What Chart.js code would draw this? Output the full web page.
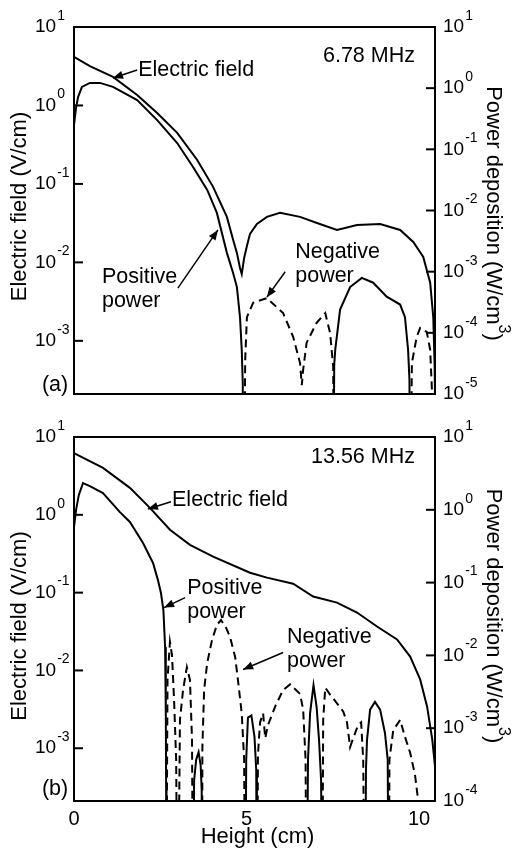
<!DOCTYPE html>
<html>
<head>
<meta charset="utf-8">
<script src="https://cdn.jsdelivr.net/npm/chart.js@4.4.0/dist/chart.umd.min.js"></script>
<style>
  html, body { margin: 0; padding: 0; background: #fff; }
  #wrap { position: relative; width: 514px; height: 850px; }
  canvas { position: absolute; left: 0; }
  #chartA { top: 0; }
  #chartB { top: 420px; }
</style>
</head>
<body>
<div id="wrap">
  <canvas id="chartA" width="514" height="420"></canvas>
  <canvas id="chartB" width="514" height="430"></canvas>
</div>
<script>
// (a) 6.78 MHz
const heightFieldA = [0, 0.46, 1.13, 1.83, 2.41, 2.99, 3.57, 4.03, 4.43, 4.61, 4.72, 4.81, 4.86, 4.93, 5.01, 5.10, 5.30, 5.59, 5.97, 6.55, 7.04, 7.62, 8.20, 8.87, 9.45, 9.83, 10.12, 10.32, 10.41, 10.45, 10.46];
const fieldA = [4.15, 3.18, 2.31, 1.36, 0.80, 0.447, 0.202, 0.0917, 0.038, 0.0194, 0.0132, 0.0085, 0.0071, 0.0114, 0.0162, 0.0231, 0.0309, 0.038, 0.0428, 0.038, 0.0318, 0.0259, 0.030, 0.0309, 0.0259, 0.0182, 0.0117, 0.0055, 0.0020, 0.00047, 0.0002];

const heightPosA = [0, 0.06, 0.12, 0.23, 0.46, 0.75, 1.13, 1.83, 2.41, 2.99, 3.45, 3.86, 4.14, 4.43, 4.61, 4.72, 4.81, 4.86, 4.89, 4.90, 6.0, 7.51, 7.54, 7.57, 7.71, 8.0, 8.34, 8.67, 9.06, 9.45, 9.59, 9.68, 9.72, 9.74];
const posPowerA = [0.25, 0.48, 0.72, 1.05, 1.22, 1.22, 1.05, 0.64, 0.30, 0.127, 0.0515, 0.0217, 0.00914, 0.00203, 9.5e-4, 5.6e-4, 1.8e-4, 5.3e-5, 1.5e-5, 1e-7, null, 1e-7, 3.0e-5, 5.3e-5, 2.4e-4, 5.6e-4, 7.9e-4, 6.6e-4, 3.9e-4, 2.9e-4, 1.8e-4, 5.3e-5, 1.7e-5, 1e-7];

const heightNegA = [4.93, 4.96, 5.01, 5.19, 5.59, 6.06, 6.35, 6.55, 6.60, 6.64, 6.74, 7.03, 7.28, 7.42, 7.51, 7.54, 8.6, 9.75, 9.79, 9.93, 10.03, 10.22, 10.32, 10.37, 10.38];
const negPowerA = [1e-7, 3.6e-5, 1.8e-4, 3.1e-4, 3.7e-4, 2.1e-4, 8.6e-5, 3.2e-5, 1.4e-5, 2.5e-5, 6.9e-5, 1.46e-4, 2.1e-4, 1.0e-4, 2.8e-5, 1e-7, null, 1e-7, 3.2e-5, 8.6e-5, 1.2e-4, 1.04e-4, 5.3e-5, 1.2e-5, 1e-7];

// (b) 13.56 MHz
const heightFieldB = [0, 0.84, 1.62, 2.20, 2.78, 3.36, 4.03, 5.10, 5.59, 6.35, 6.93, 7.62, 8.20, 8.78, 9.36, 9.74, 10.03, 10.23, 10.38, 10.46];
const fieldB = [6.2, 4.0, 2.22, 1.23, 0.643, 0.412, 0.290, 0.180, 0.156, 0.130, 0.089, 0.0745, 0.0555, 0.0367, 0.0250, 0.0151, 0.00767, 0.00345, 0.0013, 0.00059];

const heightPosB = [0, 0.06, 0.14, 0.26, 0.46, 0.84, 1.33, 1.62, 2.0, 2.29, 2.43, 2.52, 2.59, 2.64, 2.66, 2.67, 2.68,
  3.0, 3.45, 3.48, 3.54, 3.61, 3.67, 3.70, 3.71,
  4.3, 4.96, 4.99, 5.04, 5.14, 5.23, 5.28, 5.30,
  6.0, 6.74, 6.78, 6.84, 6.94, 7.03, 7.10, 7.16, 7.19,
  7.8, 8.43, 8.46, 8.49, 8.58, 8.72, 8.87, 9.01, 9.09, 9.12];
const posPowerB = [0.58, 1.0, 1.6, 2.33, 2.12, 1.70, 0.93, 0.68, 0.35, 0.186, 0.109, 0.072, 0.042, 0.013, 1.6e-3, 1.4e-4, 1e-6,
  null, 1e-6, 1.9e-4, 3.7e-4, 4.7e-4, 3.1e-4, 1.4e-4, 1e-6,
  null, 1e-6, 3.7e-4, 1.4e-3, 1.5e-3, 7.6e-4, 2.7e-4, 1e-6,
  null, 1e-6, 3.7e-4, 1.6e-3, 3.9e-3, 1.95e-3, 6.9e-4, 1.9e-4, 1e-6,
  null, 1e-6, 2.7e-4, 6.9e-4, 1.8e-3, 2.3e-3, 1.8e-3, 8.6e-4, 3.7e-4, 1e-6];

const heightNegB = [2.67, 2.71, 2.78, 2.84, 2.90, 2.96, 3.00, 3.01, 3.07, 3.16, 3.27, 3.36, 3.42, 3.45,
  3.6, 3.71, 3.72, 3.77, 3.86, 4.0, 4.14, 4.26, 4.41, 4.52, 4.67, 4.76, 4.86, 4.93, 4.96,
  5.1, 5.30, 5.33, 5.39, 5.48, 5.54, 5.62, 5.83, 6.06, 6.26, 6.55, 6.64, 6.71, 6.74,
  7.0, 7.19, 7.22, 7.28, 7.42, 7.62, 7.80, 7.91, 8.0, 8.09, 8.23, 8.32, 8.38, 8.43,
  8.8, 9.12, 9.14, 9.25, 9.45, 9.59, 9.74, 9.88, 9.97, 9.99];
const negPowerB = [1e-6, 4.6e-3, 0.0153, 0.0101, 2.4e-3, 3.7e-4, 1e-6, 1e-6, 1.3e-3, 3.35e-3, 6.9e-3, 4.6e-3, 6.9e-4, 1e-6,
  null, 1e-6, 5.5e-4, 3.35e-3, 7.9e-3, 0.0163, 0.0262, 0.0306, 0.0238, 0.0179, 9.5e-3, 4.2e-3, 1.6e-3, 3.7e-4, 1e-6,
  null, 1e-6, 4.3e-4, 1.2e-3, 1.6e-3, 7.3e-4, 1.1e-3, 2.0e-3, 3.35e-3, 4.0e-3, 2.95e-3, 1.8e-3, 3.7e-4, 1e-6,
  null, 1e-6, 1.3e-3, 3.6e-3, 2.9e-3, 2.2e-3, 1.7e-3, 1.2e-3, 5.5e-4, 7.3e-4, 1.1e-3, 1.2e-3, 3.7e-4, 1e-6,
  null, 1e-6, 3.7e-4, 9.4e-4, 1.3e-3, 7.6e-4, 4.6e-4, 2.3e-4, 1.03e-4, 1e-6];

// tick labels (decade exponents)
const fieldTicks = [1, 0, -1, -2, -3];
const powerTicksA = [1, 0, -1, -2, -3, -4, -5];
const powerTicksB = [1, 0, -1, -2, -3, -4];
const heightTicks = [0, 5, 10];

const FONT = '"Liberation Sans", Arial, Helvetica, sans-serif';

function pts(xs, ys) {
  return xs.map((x, i) => ({ x: x, y: ys[i] }));
}

// "10" with a raised exponent, left edge at x
function drawPow(ctx, x, y, exp) {
  ctx.textAlign = 'left';
  ctx.textBaseline = 'middle';
  ctx.font = '19px ' + FONT;
  const wb = ctx.measureText('10').width;
  ctx.fillText('10', x, y);
  ctx.font = '14px ' + FONT;
  ctx.fillText(String(exp), x + wb + 1, y - 11);
}

function arrow(ctx, x1, y1, x2, y2) {
  ctx.beginPath();
  ctx.moveTo(x1, y1);
  ctx.lineTo(x2, y2);
  ctx.lineWidth = 1.5;
  ctx.stroke();
  const ang = Math.atan2(y2 - y1, x2 - x1);
  ctx.beginPath();
  ctx.moveTo(x2, y2);
  ctx.lineTo(x2 - 10 * Math.cos(ang) + 4 * Math.sin(ang), y2 - 10 * Math.sin(ang) - 4 * Math.cos(ang));
  ctx.lineTo(x2 - 10 * Math.cos(ang) - 4 * Math.sin(ang), y2 - 10 * Math.sin(ang) + 4 * Math.cos(ang));
  ctx.closePath();
  ctx.fill();
}

const framePlugin = {
  id: 'frame',
  afterDraw(chart, args, o) {
    const { ctx, chartArea: a, scales } = chart;
    const sx = scales.x, sy = scales.y, sy1 = scales.y1;
    ctx.save();
    ctx.strokeStyle = '#000';
    ctx.fillStyle = '#000';
    ctx.lineWidth = 2;
    ctx.strokeRect(a.left, a.top, a.right - a.left, a.bottom - a.top);

    o.leftTicks.forEach(e => {
      const py = sy.getPixelForValue(Math.pow(10, e));
      if (py > a.top + 2 && py < a.bottom - 2) {
        ctx.beginPath(); ctx.moveTo(a.left, py); ctx.lineTo(a.left + 9, py); ctx.stroke();
      }
      drawPow(ctx, a.left - 39, py, e);
    });
    o.rightTicks.forEach(e => {
      const py = sy1.getPixelForValue(Math.pow(10, e));
      if (py > a.top + 2 && py < a.bottom - 2) {
        ctx.beginPath(); ctx.moveTo(a.right - 9, py); ctx.lineTo(a.right, py); ctx.stroke();
      }
      drawPow(ctx, a.right + 8, py, e);
    });
    if (o.xTicks) {
      ctx.font = '20px ' + FONT;
      ctx.textAlign = 'center';
      ctx.textBaseline = 'middle';
      o.xTicks.forEach(v => ctx.fillText(String(v), sx.getPixelForValue(v), a.bottom + 18));
      ctx.font = '22px ' + FONT;
      ctx.fillText('Height (cm)', (a.left + a.right) / 2 + 3, a.bottom + 36);
    }

    // axis titles
    const midY = (a.top + a.bottom) / 2;
    ctx.font = '22px ' + FONT;
    ctx.textAlign = 'center';
    ctx.textBaseline = 'middle';
    ctx.save();
    ctx.translate(a.left - 54, midY + o.leftTitleShift);
    ctx.rotate(-Math.PI / 2);
    ctx.fillText('Electric field (V/cm)', 0, 0);
    ctx.restore();

    ctx.save();
    ctx.translate(a.right + 58, midY + o.rightTitleShift);
    ctx.rotate(Math.PI / 2);
    const main = 'Power deposition (W/cm';
    ctx.font = '22px ' + FONT;
    const w1 = ctx.measureText(main).width;
    const w3 = ctx.measureText(')').width;
    ctx.font = '16px ' + FONT;
    const w2 = ctx.measureText('3').width;
    let x0 = -(w1 + w2 + w3) / 2;
    ctx.textAlign = 'left';
    ctx.font = '22px ' + FONT;
    ctx.fillText(main, x0, 0);
    ctx.font = '16px ' + FONT;
    ctx.fillText('3', x0 + w1, -10);
    ctx.font = '22px ' + FONT;
    ctx.fillText(')', x0 + w1 + w2, 0);
    ctx.restore();

    // annotations, anchored in data units on the height / electric-field scales
    ctx.font = '21.5px ' + FONT;
    ctx.textBaseline = 'middle';
    o.notes.forEach(n => {
      const px = sx.getPixelForValue(n.x);
      const py = sy.getPixelForValue(n.y);
      ctx.textAlign = n.align || 'left';
      n.lines.forEach((t, i) => ctx.fillText(t, px, py + i * 24));
      if (n.from) {
        arrow(ctx, sx.getPixelForValue(n.from[0]), sy.getPixelForValue(n.from[1]),
          sx.getPixelForValue(n.to[0]), sy.getPixelForValue(n.to[1]));
      }
    });
    ctx.restore();
  }
};

function lineSet(xs, ys, axis, dashed) {
  return {
    data: pts(xs, ys),
    yAxisID: axis,
    borderColor: '#000',
    borderWidth: 2,
    borderDash: dashed ? [8, 5] : [],
    pointRadius: 0,
    fill: false,
    tension: 0,
    spanGaps: false
  };
}

function makeChart(id, sets, cfg) {
  return new Chart(document.getElementById(id), {
    type: 'line',
    data: { datasets: sets },
    options: {
      responsive: false,
      animation: false,
      layout: { padding: cfg.padding },
      plugins: {
        legend: { display: false },
        tooltip: { enabled: false },
        frame: cfg.frame
      },
      scales: {
        x: { type: 'linear', min: 0, max: 10.46, display: false },
        y: { type: 'logarithmic', min: cfg.fieldMin, max: 10, display: false },
        y1: { type: 'logarithmic', position: 'right', min: cfg.powerMin, max: 10, display: false }
      }
    },
    plugins: [framePlugin]
  });
}

makeChart('chartA', [
  lineSet(heightFieldA, fieldA, 'y', false),
  lineSet(heightPosA, posPowerA, 'y1', false),
  lineSet(heightNegA, negPowerA, 'y1', true)
], {
  padding: { left: 74, right: 79, top: 27, bottom: 26 },
  fieldMin: 2.1e-4,
  powerMin: 1e-5,
  frame: {
    leftTicks: fieldTicks,
    rightTicks: powerTicksA,
    leftTitleShift: -4,
    rightTitleShift: 3,
    notes: [
      { lines: ['6.78 MHz'], x: 9.88, y: 4.3, align: 'right' },
      { lines: ['Electric field'], x: 1.86, y: 2.83, from: [1.83, 2.83], to: [1.13, 2.24] },
      { lines: ['Positive', 'power'], x: 0.81, y: 6.5e-3, from: [3.01, 4.7e-3], to: [4.17, 0.0259] },
      { lines: ['Negative', 'power'], x: 6.41, y: 0.0136, from: [6.12, 7.6e-3], to: [5.59, 3.6e-3] },
      { lines: ['(a)'], x: -0.93, y: 2.75e-4 }
    ]
  }
});

makeChart('chartB', [
  lineSet(heightFieldB, fieldB, 'y', false),
  lineSet(heightPosB, posPowerB, 'y1', false),
  lineSet(heightNegB, negPowerB, 'y1', true)
], {
  padding: { left: 74, right: 79, top: 17, bottom: 49 },
  fieldMin: 2.1e-4,
  powerMin: 1e-4,
  frame: {
    leftTicks: fieldTicks,
    rightTicks: powerTicksB,
    xTicks: heightTicks,
    leftTitleShift: 7,
    rightTitleShift: -3,
    notes: [
      { lines: ['13.56 MHz'], x: 9.88, y: 5.5, align: 'right' },
      { lines: ['Electric field'], x: 2.84, y: 1.56, from: [2.81, 1.47], to: [2.14, 1.19] },
      { lines: ['Positive', 'power'], x: 3.28, y: 0.116, from: [3.22, 0.0863], to: [2.61, 0.0643] },
      { lines: ['Negative', 'power'], x: 6.17, y: 0.0265, from: [6.06, 0.017], to: [4.90, 0.0103] },
      { lines: ['(b)'], x: -0.93, y: 2.98e-4 }
    ]
  }
});
</script>
</body>
</html>
